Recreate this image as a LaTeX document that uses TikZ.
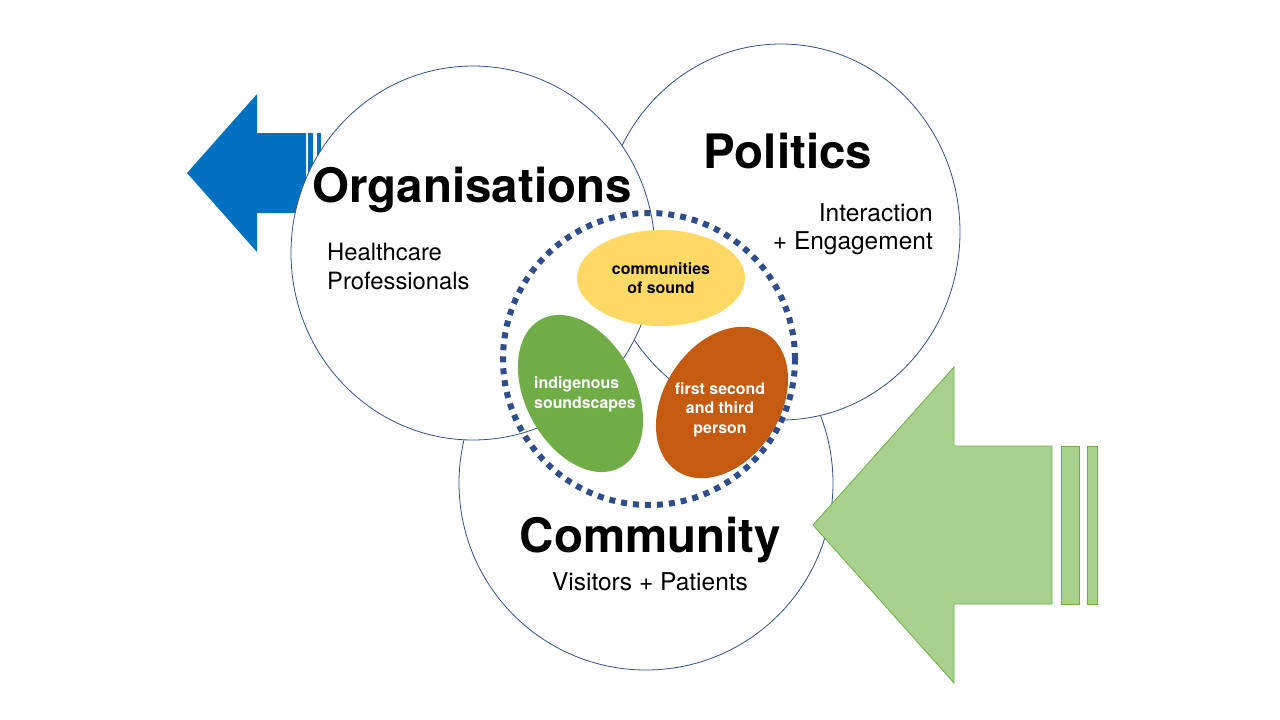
\documentclass[tikz,border=0pt]{standalone}
\usepackage{fontspec}
\setmainfont{TeX Gyre Heros}
\usetikzlibrary{shapes.geometric}
\definecolor{circline}{RGB}{47,82,143}
\definecolor{dotblue}{RGB}{45,77,140}
\definecolor{arrblue}{RGB}{0,112,192}
\definecolor{arrgreen}{RGB}{169,209,142}
\definecolor{arrgreenline}{RGB}{112,173,71}
\definecolor{ellyellow}{RGB}{255,217,102}
\definecolor{ellgreen}{RGB}{112,173,71}
\definecolor{ellorange}{RGB}{197,90,17}
\begin{document}
\begin{tikzpicture}[x=1pt,y=-1pt,
  venn/.style={ellipse, draw=circline, line width=0.8pt, fill=white, inner sep=0pt},
  blob/.style={ellipse, draw=none, inner sep=0pt},
  bigtitle/.style={font=\bfseries\fontsize{47.5}{56}\selectfont, inner sep=0pt, anchor=base},
  subtext/.style={font=\fontsize{23.8}{28}\selectfont, inner sep=0pt},
  subtextb/.style={font=\fontsize{24.5}{29}\selectfont, inner sep=0pt},
  blobtext/.style={font=\bfseries\fontsize{15.9}{19}\selectfont, inner sep=0pt},
  bluearrow/.style={fill=arrblue, draw=none},
  greenarrow/.style={fill=arrgreen, draw=arrgreenline, line width=0.8pt}
]
\useasboundingbox (0,0) rectangle (1280,720);
\fill[white] (0,0) rectangle (1280,720);

% Venn circles (Community behind, then Politics, blue arrow, Organisations)
\node[venn, minimum width=374pt, minimum height=374pt] (community) at (646,483) {};
\node[venn, minimum width=358pt, minimum height=376pt] (politics) at (781,232) {};

\path[bluearrow] (187,173) -- (257,94) -- (257,133) -- (306,133) -- (306,213) -- (257,213) -- (257,252) -- cycle;
\fill[arrblue] (308,133) rectangle (313,213);
\fill[arrblue] (316.5,133) rectangle (321,213);

\node[venn, minimum width=364pt, minimum height=374pt] (org) at (473,253) {};

% dotted circle
\node[circle, draw=dotblue, line width=6pt, dash pattern=on 6pt off 6pt,
      minimum size=292pt, inner sep=0pt] (core) at (649,359) {};

% inner ellipses
\node[blob, fill=ellyellow, minimum width=168pt, minimum height=96pt] (sound) at (661,278) {};
\node[blob, fill=ellgreen, minimum width=168pt, minimum height=110pt, rotate=-62] (indig) at (580.5,393.5) {};
\node[blob, fill=ellorange, minimum width=164pt, minimum height=116pt, rotate=57] (person) at (722,402.5) {};

% green arrow
\path[greenarrow] (813,525) -- (954,367) -- (954,446) -- (1052,446) -- (1052,604) -- (954,604) -- (954,683) -- cycle;
\path[greenarrow] (1061,446) rectangle (1079,604);
\path[greenarrow] (1087,446) rectangle (1097,604);

% titles
\node[bigtitle] (orgT) at (472,202) {Organisations};
\node[bigtitle] (polT) at (788,168) {Politics};
\node[bigtitle] (comT) at (650.5,552) {Community};

% subtexts
\node[subtext, anchor=base west] (hc1) at (327,260) {Healthcare};
\node[subtext, anchor=base west] (hc2) at (327,289) {Professionals};
\node[subtextb, anchor=base east] (ie1) at (933,221) {Interaction};
\node[subtextb, anchor=base east] (ie2) at (933,249) {+ Engagement};
\node[subtextb, anchor=base] (vp) at (650,590) {Visitors + Patients};

% blob texts
\node[blobtext, anchor=base] (s1) at (661,274) {communities};
\node[blobtext, anchor=base] (s2) at (661,293) {of sound};
\node[blobtext, text=white, anchor=base west] (g1) at (534,388) {indigenous};
\node[blobtext, text=white, anchor=base west] (g2) at (534,408) {soundscapes};
\node[blobtext, text=white, anchor=base] (o1) at (720,394) {first second};
\node[blobtext, text=white, anchor=base] (o2) at (720,413.5) {and third};
\node[blobtext, text=white, anchor=base] (o3) at (720,433) {person};
\end{tikzpicture}
\end{document}
